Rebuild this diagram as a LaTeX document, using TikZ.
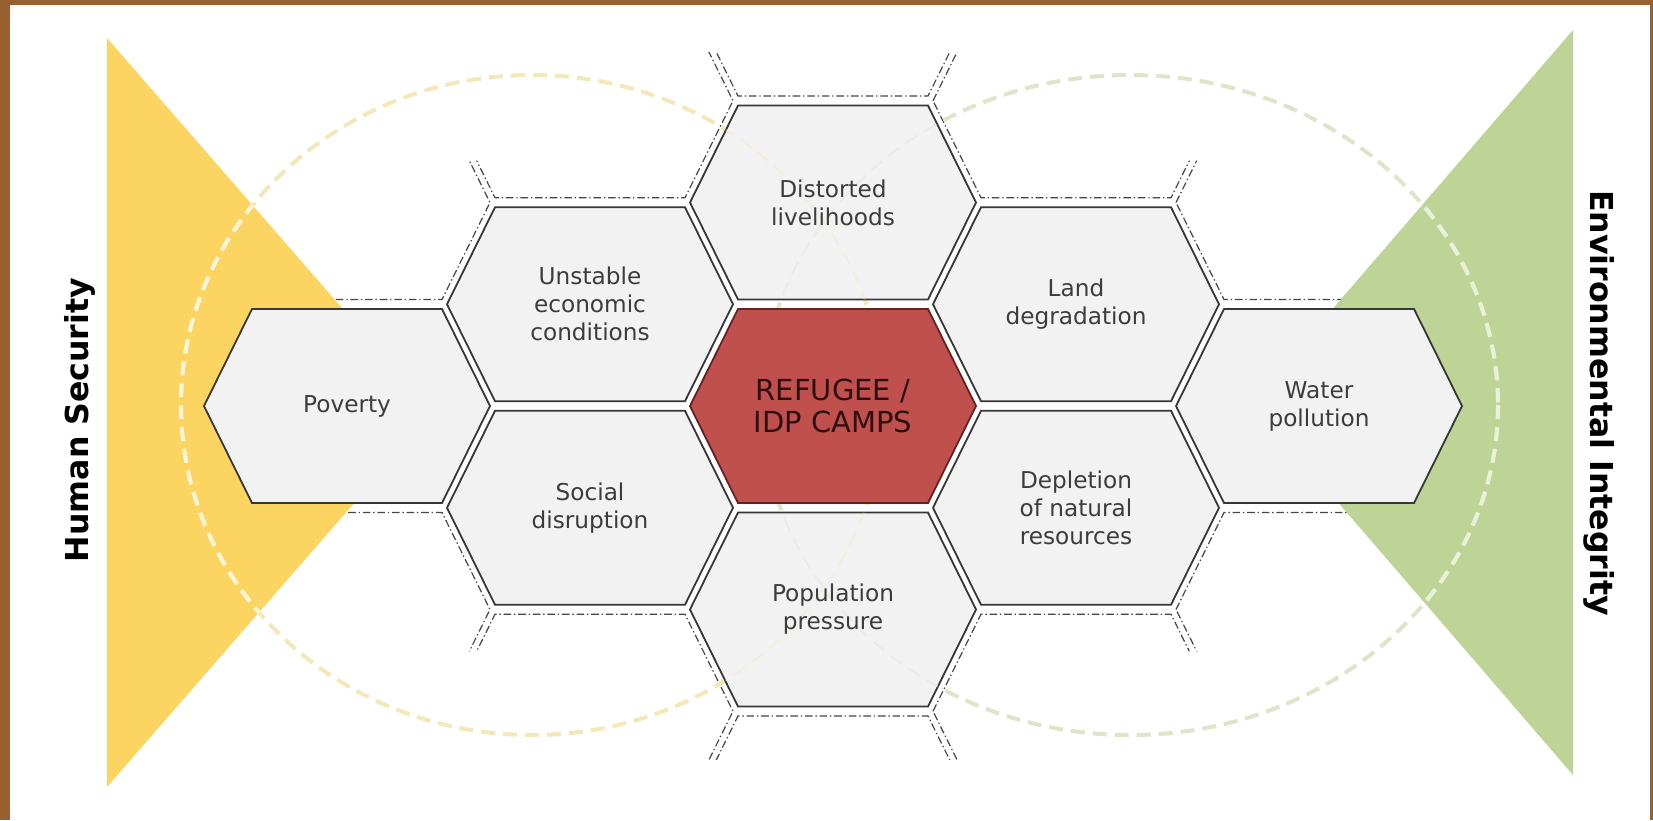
\documentclass[tikz,border=0pt]{standalone}
\usepackage{fontspec}
\setmainfont{DejaVu Sans}

\definecolor{frame}{RGB}{150,96,48}
\definecolor{secyellow}{RGB}{252,212,98}
\definecolor{envgreen}{RGB}{190,211,150}
\definecolor{camp}{RGB}{192,80,77}
\definecolor{campedge}{RGB}{100,35,33}
\definecolor{campink}{RGB}{45,15,15}
\definecolor{cell}{RGB}{242,242,242}
\definecolor{rim}{RGB}{55,55,55}
\definecolor{ghost}{RGB}{70,70,70}
\definecolor{ink}{RGB}{60,60,60}
\definecolor{ringY}{RGB}{243,232,184}
\definecolor{ringYin}{RGB}{254,244,214}
\definecolor{ringG}{RGB}{222,229,202}
\definecolor{ringGin}{RGB}{233,241,217}

% flat-top hexagon: centre x, centre y, scale
\newcommand{\hexat}[3]{(#1-143*#3,#2) -- (#1-95*#3,#2-97*#3) -- (#1+95*#3,#2-97*#3) -- (#1+143*#3,#2) -- (#1+95*#3,#2+97*#3) -- (#1-95*#3,#2+97*#3) -- cycle}

\begin{document}
\begin{tikzpicture}[x=0.5pt, y=-0.5pt,
  ghostline/.style={draw=ghost, line width=0.6pt, dash pattern=on 3.8pt off 1.4pt on 0.7pt off 1.4pt},
  cellhex/.style={fill=cell, draw=rim, line width=0.9pt},
  camphex/.style={fill=camp, draw=campedge, line width=0.9pt},
  celltext/.style={font=\fontsize{11.6}{14}\selectfont, text=ink, align=center},
  camptext/.style={font=\fontsize{14.5}{16}\selectfont, text=campink, align=center},
  sidetext/.style={font=\bfseries\fontsize{15.8}{18}\selectfont, text=black, anchor=base},
  ring/.style={line width=2pt, dash pattern=on 7pt off 4pt}]

  \useasboundingbox (0,0) rectangle (1653,820);
  \fill[frame] (0,0) rectangle (1653,820);
  \fill[white] (10,5) rectangle (1650,820);

  % empty neighbour cells, only shown close to the filled ones
  \begin{scope}
    \clip \hexat{833}{202.5}{1.55} \hexat{833}{609.5}{1.55}
          \hexat{590}{304.25}{1.48} \hexat{590}{507.75}{1.48}
          \hexat{1076}{304.25}{1.48} \hexat{1076}{507.75}{1.48}
          \hexat{347}{406}{1.48} \hexat{1319}{406}{1.48};
    \foreach \cx/\cy in {833/-1, 833/813, 590/100.75, 590/711.25, 1076/100.75, 1076/711.25,
        347/202.5, 347/609.5, 1319/202.5, 1319/609.5,
        104/304.25, 104/507.75, 1562/304.25, 1562/507.75}
      \draw[ghostline] \hexat{\cx}{\cy}{1};
  \end{scope}

  \fill[secyellow] (107,38) -- (433,412.5) -- (107,787) -- cycle;
  \fill[envgreen] (1573,30) -- (1252,402.5) -- (1573,775) -- cycle;

  \draw[ring, draw=ringY] (532,405) ellipse [x radius=351, y radius=330];
  \draw[ring, draw=ringG] (1130,405) ellipse [x radius=368, y radius=330];
  \begin{scope}
    \clip (107,38) -- (433,412.5) -- (107,787) -- cycle;
    \draw[ring, draw=ringYin] (532,405) ellipse [x radius=351, y radius=330];
  \end{scope}
  \begin{scope}
    \clip (1573,30) -- (1252,402.5) -- (1573,775) -- cycle;
    \draw[ring, draw=ringGin] (1130,405) ellipse [x radius=368, y radius=330];
  \end{scope}

  \path[cellhex] \hexat{833}{202.5}{1};
  \path[cellhex] \hexat{833}{609.5}{1};
  \path[cellhex] \hexat{590}{304.25}{1};
  \path[cellhex] \hexat{590}{507.75}{1};
  \path[cellhex] \hexat{1076}{304.25}{1};
  \path[cellhex] \hexat{1076}{507.75}{1};
  \path[cellhex] \hexat{347}{406}{1};
  \path[cellhex] \hexat{1319}{406}{1};
  \path[camphex] \hexat{833}{406}{1};

  % rings seen faintly through the cells
  \begin{scope}
    \clip \hexat{833}{202.5}{1} \hexat{833}{609.5}{1}
          \hexat{590}{304.25}{1} \hexat{590}{507.75}{1}
          \hexat{1076}{304.25}{1} \hexat{1076}{507.75}{1};
    \draw[ring, line width=1pt, draw=ringY, opacity=0.35] (532,405) ellipse [x radius=351, y radius=330];
    \draw[ring, line width=1pt, draw=ringG, opacity=0.35] (1130,405) ellipse [x radius=368, y radius=330];
  \end{scope}

  \node[celltext] (dist) at (833,202.5) {Distorted\\livelihoods};
  \node[celltext] (unst) at (590,304.25) {Unstable\\economic\\conditions};
  \node[celltext] (pov) at (347,406) {Poverty};
  \node[celltext] (soc) at (590,507.75) {Social\\disruption};
  \node[celltext] (popu) at (833,609.5) {Population\\pressure};
  \node[celltext] (land) at (1076,304.25) {Land\\degradation};
  \node[celltext] (depl) at (1076,507.75) {Depletion\\of natural\\resources};
  \node[celltext] (water) at (1319,406) {Water\\pollution};
  \node[camptext] (camps) at (833,406) {REFUGEE /\\IDP CAMPS};

  \node[sidetext, rotate=90] (human) at (88,420) {Human Security};
  \node[sidetext, rotate=-90] (envi) at (1590,403) {Environmental Integrity};
\end{tikzpicture}
\end{document}
